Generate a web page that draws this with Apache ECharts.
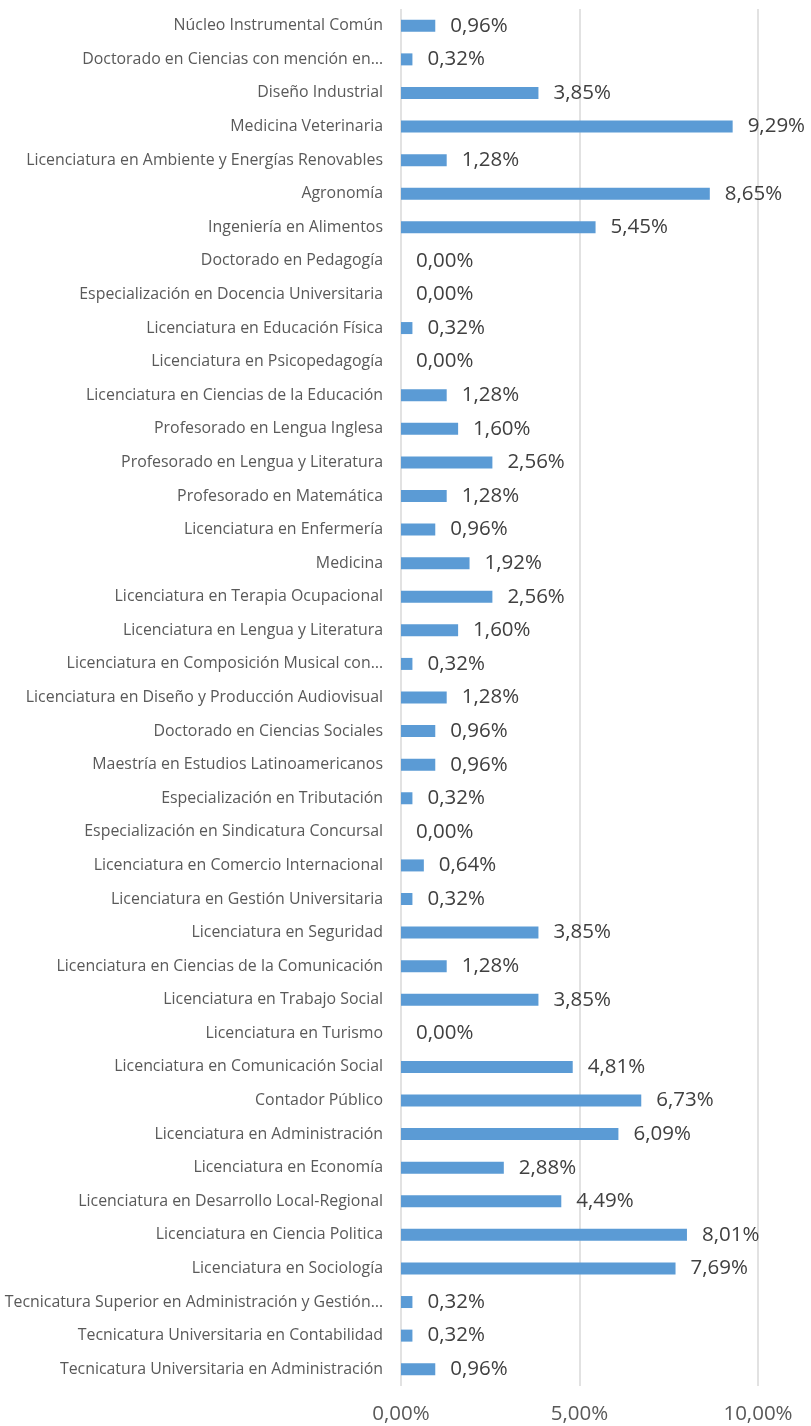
<!DOCTYPE html>
<html><head><meta charset="utf-8">
<script src="https://cdn.jsdelivr.net/npm/echarts@6/dist/echarts.min.js"></script>
<style>html,body{margin:0;padding:0;background:#fff}#c{width:811px;height:1426px}</style>
</head><body><div id="c"></div>
<script>
const categories = [
"Núcleo Instrumental Común",
"Doctorado en Ciencias con mención en…",
"Diseño Industrial",
"Medicina Veterinaria",
"Licenciatura en Ambiente y Energías Renovables",
"Agronomía",
"Ingeniería en Alimentos",
"Doctorado en Pedagogía",
"Especialización en Docencia Universitaria",
"Licenciatura en Educación Física",
"Licenciatura en Psicopedagogía",
"Licenciatura en Ciencias de la Educación",
"Profesorado en Lengua Inglesa",
"Profesorado en Lengua y Literatura",
"Profesorado en Matemática",
"Licenciatura en Enfermería",
"Medicina",
"Licenciatura en Terapia Ocupacional",
"Licenciatura en Lengua y Literatura",
"Licenciatura en Composición Musical con…",
"Licenciatura en Diseño y Producción Audiovisual",
"Doctorado en Ciencias Sociales",
"Maestría en Estudios Latinoamericanos",
"Especialización en Tributación",
"Especialización en Sindicatura Concursal",
"Licenciatura en Comercio Internacional",
"Licenciatura en Gestión Universitaria",
"Licenciatura en Seguridad",
"Licenciatura en Ciencias de la Comunicación",
"Licenciatura en Trabajo Social",
"Licenciatura en Turismo",
"Licenciatura en Comunicación Social",
"Contador Público",
"Licenciatura en Administración",
"Licenciatura en Economía",
"Licenciatura en Desarrollo Local-Regional",
"Licenciatura en Ciencia Politica",
"Licenciatura en Sociología",
"Tecnicatura Superior en Administración y Gestión…",
"Tecnicatura Universitaria en Contabilidad",
"Tecnicatura Universitaria en Administración"
];
const values = [
0.96, 0.32, 3.85, 9.29, 1.28, 8.65, 5.45, 0.00, 0.00, 0.32,
0.00, 1.28, 1.60, 2.56, 1.28, 0.96, 1.92, 2.56, 1.60, 0.32,
1.28, 0.96, 0.96, 0.32, 0.00, 0.64, 0.32, 3.85, 1.28, 3.85,
0.00, 4.81, 6.73, 6.09, 2.88, 4.49, 8.01, 7.69, 0.32, 0.32,
0.96
];
const xTicks = [0, 5, 10];

const fmt = v => Number(v).toFixed(2).replace('.', ',') + '%';
const chart = echarts.init(document.getElementById('c'), null, {renderer: 'canvas'});
chart.setOption({
  animation: false,
  grid: {left: 401, right: 53, top: 9, height: 1377, containLabel: false, outerBoundsMode: 'none'},
  xAxis: {
    type: 'value', min: xTicks[0], max: xTicks[xTicks.length - 1], interval: xTicks[1] - xTicks[0],
    axisLine: {show: false}, axisTick: {show: false},
    splitLine: {show: true, lineStyle: {color: '#d9d9d9', width: 1.5}},
    axisLabel: {formatter: fmt, color: '#595959', fontFamily: 'Open Sans', fontSize: 20.5, margin: 18}
  },
  yAxis: {
    type: 'category', data: categories, inverse: true,
    axisLine: {show: false}, axisTick: {show: false},
    axisLabel: {color: '#595959', fontFamily: 'Open Sans', fontSize: 15.9, margin: 18, interval: 0}
  },
  series: [{
    type: 'bar', data: values, barWidth: 12,
    itemStyle: {color: '#5B9BD5'},
    label: {show: true, position: 'right', distance: 15, formatter: p => fmt(p.value),
      color: '#404040', fontFamily: 'Open Sans', fontSize: 20.5}
  }]
});
</script></body></html>
